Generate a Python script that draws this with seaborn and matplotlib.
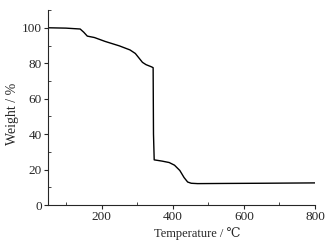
import numpy as np
import pandas as pd
import seaborn as sns
import matplotlib.pyplot as plt
from matplotlib.ticker import MultipleLocator

# TGA curve
temperature = [50, 100, 140, 150, 160, 180, 210, 250, 280, 295, 305, 315, 325, 340, 345, 346, 348,
               370, 390, 405, 420, 432, 442, 452, 470, 550, 650, 800]
weight = [100, 99.8, 99.3, 97.5, 95.3, 94.5, 92.3, 89.8, 87.5, 85.5, 83, 80.5, 79.2, 78, 77.5, 40, 25.5,
          24.8, 24, 22.5, 19.5, 15.5, 13, 12.3, 12.1, 12.2, 12.3, 12.5]

df = pd.DataFrame({"Temperature": temperature, "Weight": weight})

sns.set_style("ticks")
plt.rcParams['font.family'] = ['Liberation Serif', 'DejaVu Serif']

fig = plt.figure(figsize=(3.32, 2.45), dpi=100)
ax = fig.add_axes([0.145, 0.163, 0.804, 0.796])
sns.lineplot(data=df, x="Temperature", y="Weight", color="black", linewidth=1.0, ax=ax)

ax.set_xlim(50, 800)
ax.set_ylim(0, 110)
ax.xaxis.set_major_locator(MultipleLocator(200))
ax.xaxis.set_minor_locator(MultipleLocator(100))
ax.yaxis.set_major_locator(MultipleLocator(20))
ax.yaxis.set_minor_locator(MultipleLocator(10))
ax.tick_params(which="major", direction="out", length=3, width=0.8, labelsize=9.5, pad=1.5)
ax.tick_params(which="minor", direction="in", length=2, width=0.6)
ax.set_xlabel("Temperature / ℃", fontsize=9, labelpad=1)
ax.set_ylabel("Weight / %", fontsize=10, labelpad=3)
ax.xaxis.set_label_coords(0.56, -0.115)
ax.yaxis.set_label_coords(-0.11, 0.47)
for s in ["top", "right"]:
    ax.spines[s].set_visible(False)
for s in ["left", "bottom"]:
    ax.spines[s].set_linewidth(0.8)

fig.savefig("out.png", dpi=100)
